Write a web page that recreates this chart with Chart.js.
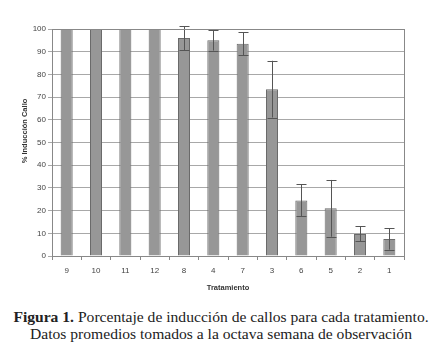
<!DOCTYPE html>
<html><head><meta charset="utf-8">
<script src="https://cdn.jsdelivr.net/npm/chart.js@4/dist/chart.umd.min.js"></script>
<style>
html,body{margin:0;padding:0;background:#fff;width:442px;height:364px;overflow:hidden;}
#wrap{position:absolute;left:0;top:0;width:442px;height:296px;}
#cap{position:absolute;left:0;top:308px;width:442px;text-align:center;font-family:"Liberation Serif",serif;font-size:15.6px;line-height:17px;color:#222;}
</style></head>
<body>
<div id="wrap"><canvas id="c" width="442" height="296"></canvas></div>
<div id="cap"><b>Figura 1.</b> Porcentaje de inducción de callos para cada tratamiento.<br>Datos promedios tomados a la octava semana de observación</div>
<script>
const categories = ['9','10','11','12','8','4','7','3','6','5','2','1'];
const values = [100,100,100,100,96,95,93.5,73.5,24.5,21,9.7,7.5];
const errors = [0,0,0,0,5.3,4.5,5,12.5,7,12.5,3.3,4.7];
const yTicks = [0,10,20,30,40,50,60,70,80,90,100];
const yTitle = '% Inducción Callo';

const errorBars = {
  id:'errorBars',
  afterDatasetsDraw(chart){
    const ctx = chart.ctx, meta = chart.getDatasetMeta(0), y = chart.scales.y;
    ctx.save();
    ctx.strokeStyle = '#555'; ctx.lineWidth = 1;
    meta.data.forEach((bar,i)=>{
      const e = errors[i]; if(!e) return;
      const x = Math.round(bar.x)+0.5;
      const top = y.getPixelForValue(values[i]+e), bot = y.getPixelForValue(values[i]-e);
      ctx.beginPath();
      ctx.moveTo(x,top); ctx.lineTo(x,bot);
      ctx.moveTo(x-5,Math.round(top)+0.5); ctx.lineTo(x+5,Math.round(top)+0.5);
      ctx.moveTo(x-5,Math.round(bot)+0.5); ctx.lineTo(x+5,Math.round(bot)+0.5);
      ctx.stroke();
    });
    ctx.restore();
  }
};
const frame = {
  id:'frame',
  afterDraw(chart){
    const a = chart.chartArea, ctx = chart.ctx;
    ctx.save(); ctx.strokeStyle='#888'; ctx.lineWidth=1;
    ctx.strokeRect(Math.round(a.left)+0.5,Math.round(a.top)+0.5,Math.round(a.right-a.left),Math.round(a.bottom-a.top));
    // y-axis title
    ctx.translate(a.left-27, a.top+102);
    ctx.rotate(-Math.PI/2);
    ctx.fillStyle='#333';
    ctx.font='bold 7.5px "Liberation Sans"';
    ctx.textAlign='center'; ctx.textBaseline='middle';
    ctx.fillText(yTitle,0,0);
    ctx.restore();
  }
};

new Chart(document.getElementById('c'),{
  type:'bar',
  data:{labels:categories,datasets:[{data:values,backgroundColor:'#979797',borderColor:'#6a6a6a',borderWidth:1,barPercentage:0.41,categoryPercentage:1}]},
  options:{
    responsive:false,animation:false,
    layout:{padding:{top:29,right:38,left:0,bottom:0}},
    plugins:{legend:{display:false},tooltip:{enabled:false}},
    scales:{
      x:{
        offset:true,
        grid:{offset:true,drawOnChartArea:false,tickLength:4,color:'#888'},
        border:{color:'#888'},
        ticks:{color:'#444',font:{family:'Liberation Sans',size:8},padding:6},
        title:{display:true,text:'Tratamiento',color:'#333',font:{family:'Liberation Sans',size:7.5,weight:'bold'},padding:{top:3}},
        afterFit(s){s.height=40;}
      },
      y:{
        min:0,max:100,
        afterBuildTicks(s){s.ticks=yTicks.map(v=>({value:v}));},
        grid:{color:'#a8a8a8',tickLength:4},
        border:{color:'#888'},
        ticks:{color:'#444',font:{family:'Liberation Sans',size:8},padding:2},
        afterFit(s){s.width=52;}
      }
    }
  },
  plugins:[errorBars,frame]
});
</script>
</body></html>
